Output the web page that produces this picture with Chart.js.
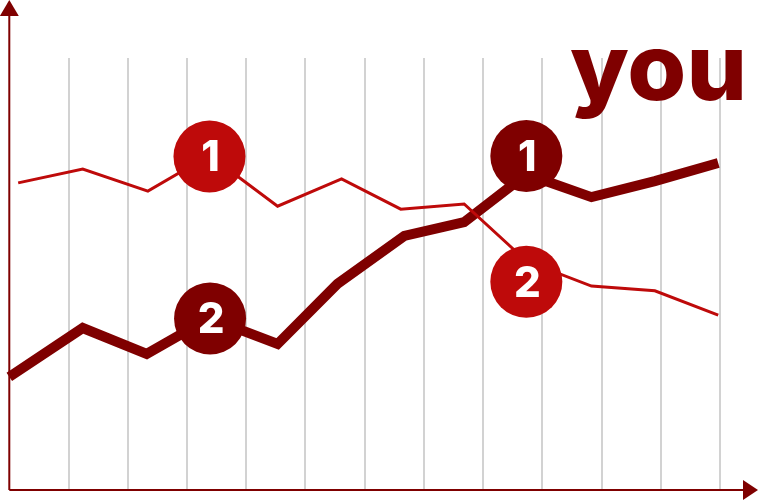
<!DOCTYPE html>
<html>
<head>
<meta charset="utf-8">
<script src="https://cdn.jsdelivr.net/npm/chart.js@4/dist/chart.umd.min.js"></script>
<style>
  body { margin: 0; background: #fff; }
</style>
</head>
<body>
<canvas id="chart" width="760" height="500"></canvas>
<script>
// values (x in grid steps, y in % of plot height)
const redX = [0.15, 1.24, 2.34, 3.38, 4.53, 5.61, 6.61, 7.68, 8.73, 9.83, 10.9, 11.97];
const redY = [71.1, 74.3, 69.2, 77.5, 65.7, 72.0, 65.0, 66.2, 53.0, 47.2, 46.1, 40.5];
const darkX = [0, 1.24, 2.32, 3.38, 4.53, 5.54, 6.67, 7.68, 8.73, 9.83, 10.9, 11.97];
const darkY = [26.2, 37.5, 31.5, 39.8, 33.8, 47.7, 58.8, 62.0, 73.1, 67.8, 71.5, 75.7];
const badgeLabels = ["1", "2", "2", "1"];
const badgeX = [3.38, 8.73, 3.39, 8.73];
const badgeY = [77.2, 48.2, 39.7, 77.3];
const title = "you";

const RED = "#be0a0a";
const DARK = "#7f0000";

const toPoints = (xs, ys) => xs.map((x, i) => ({ x: x, y: ys[i] }));

const decor = {
  id: "decor",
  beforeDatasetsDraw(chart) {
    const ctx = chart.ctx;
    const x0 = chart.scales.x.getPixelForValue(0);
    const yb = chart.scales.y.getPixelForValue(0);
    ctx.save();
    ctx.strokeStyle = DARK;
    ctx.fillStyle = DARK;
    ctx.lineWidth = 2;
    ctx.beginPath();
    ctx.moveTo(x0, yb);
    ctx.lineTo(x0, 14);
    ctx.moveTo(x0, yb);
    ctx.lineTo(chart.width - 16, yb);
    ctx.stroke();
    // arrow heads
    ctx.beginPath();
    ctx.moveTo(x0, 0);
    ctx.lineTo(x0 - 9.5, 16);
    ctx.lineTo(x0 + 9.5, 16);
    ctx.closePath();
    ctx.fill();
    ctx.beginPath();
    ctx.moveTo(chart.width - 2, yb);
    ctx.lineTo(chart.width - 17, yb - 10);
    ctx.lineTo(chart.width - 17, yb + 10);
    ctx.closePath();
    ctx.fill();
    ctx.restore();
  },
  afterDatasetsDraw(chart) {
    const ctx = chart.ctx;
    ctx.save();
    // big word
    ctx.fillStyle = DARK;
    ctx.font = "800 92px Inter";
    ctx.textBaseline = "alphabetic";
    const w = ctx.measureText(title).width;
    ctx.translate(570, 100);
    ctx.scale(177 / w, 1);
    ctx.fillText(title, 0, 0);
    ctx.restore();

    // badge digits
    const meta = chart.getDatasetMeta(2);
    ctx.save();
    ctx.fillStyle = "#fff";
    ctx.font = "800 42px Inter";
    ctx.textAlign = "center";
    ctx.textBaseline = "alphabetic";
    meta.data.forEach((pt, i) => {
      ctx.fillText(badgeLabels[i], pt.x + 1, pt.y + 15);
    });
    ctx.restore();
  }
};

new Chart(document.getElementById("chart"), {
  type: "scatter",
  data: {
    datasets: [
      {
        data: toPoints(redX, redY),
        showLine: true,
        borderColor: RED,
        borderWidth: 3,
        pointRadius: 0,
        tension: 0,
        clip: false,
        order: 1
      },
      {
        data: toPoints(darkX, darkY),
        showLine: true,
        borderColor: DARK,
        borderWidth: 10,
        pointRadius: 0,
        tension: 0,
        clip: false,
        order: 2
      },
      {
        data: toPoints(badgeX, badgeY),
        showLine: false,
        pointRadius: 36,
        pointHoverRadius: 36,
        pointBorderWidth: 0,
        backgroundColor: [RED, RED, DARK, DARK],
        borderColor: [RED, RED, DARK, DARK],
        clip: false,
        order: 0
      }
    ]
  },
  options: {
    responsive: false,
    animation: false,
    events: [],
    layout: { autoPadding: false, padding: { left: 9.3, right: 40, top: 58, bottom: 10 } },
    plugins: { legend: { display: false }, tooltip: { enabled: false } },
    scales: {
      x: {
        type: "linear",
        min: 0,
        max: 12,
        afterFit: (s) => { s.height = 0; },
        ticks: { display: false, stepSize: 1 },
        grid: {
          drawTicks: false,
          lineWidth: 2,
          color: (c) => (c.index === 0 ? "rgba(0,0,0,0)" : "#d2d2d2")
        },
        border: { display: false }
      },
      y: {
        min: 0,
        max: 100,
        afterFit: (s) => { s.width = 0; },
        ticks: { display: false },
        grid: { display: false, drawTicks: false },
        border: { display: false }
      }
    }
  },
  plugins: [decor]
});
</script>
</body>
</html>
